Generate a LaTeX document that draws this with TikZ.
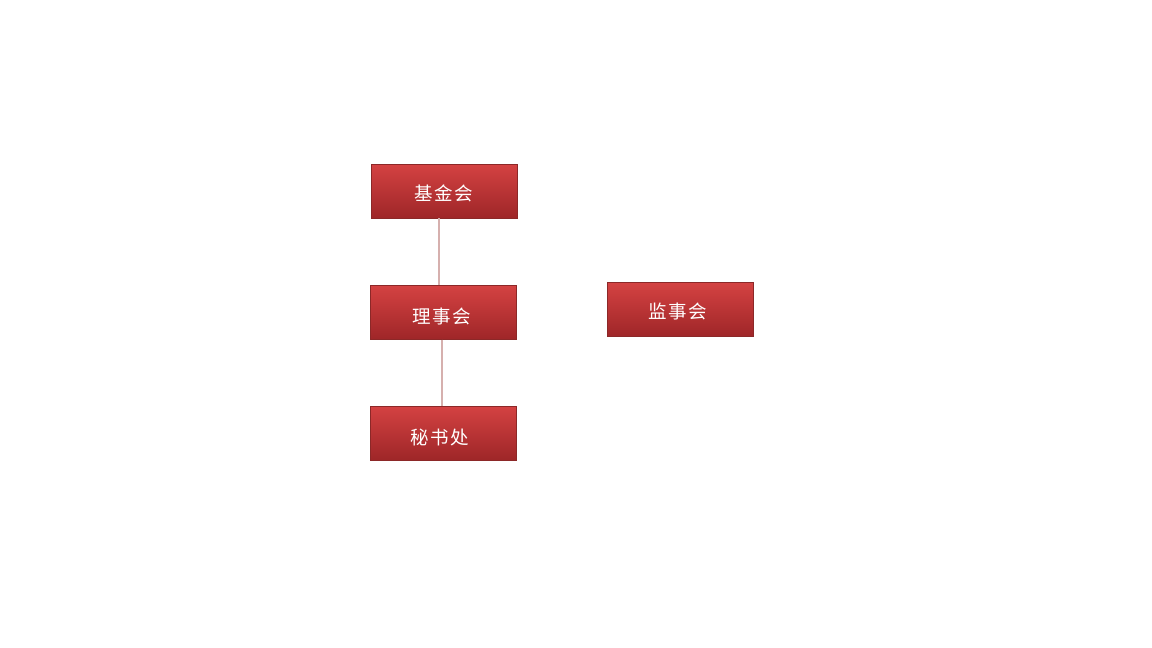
\documentclass[tikz,border=0pt]{standalone}
\usepackage{fontspec}
\newfontfamily\cjk[LetterSpace=8]{Noto Sans CJK SC}
\definecolor{boxtop}{RGB}{212,66,66}
\definecolor{boxbot}{RGB}{158,38,40}
\definecolor{boxedge}{RGB}{140,40,40}
\definecolor{linkcol}{RGB}{214,176,174}
\tikzset{
  orgbox/.style={rectangle, minimum width=146pt, minimum height=54pt, inner sep=0pt,
    top color=boxtop, bottom color=boxbot, draw=boxedge, line width=0.4pt},
  orglabel/.style={text=white, font=\cjk\fontsize{18.5pt}{20pt}\selectfont, inner sep=0pt},
  link/.style={draw=linkcol, line width=1.5pt}
}
\begin{document}
\begin{tikzpicture}[x=1pt,y=-1pt]
\useasboundingbox (0,0) rectangle (1152,648);
\node[orgbox] (jjh) at (444,191) {};
\node[orgbox] (lsh) at (443,312.5) {};
\node[orgbox] (msc) at (443,433) {};
\node[orgbox] (jsh) at (680,309.5) {};
\node[orglabel] (tjjh) at ([xshift=0pt,yshift=-2pt]jjh.center) {基金会};
\node[orglabel] (tlsh) at ([xshift=-1pt,yshift=-3.5pt]lsh.center) {理事会};
\node[orglabel] (tmsc) at ([xshift=-3pt,yshift=-4pt]msc.center) {秘书处};
\node[orglabel] (tjsh) at ([xshift=-2pt,yshift=-1.5pt]jsh.center) {监事会};
\draw[link] ([xshift=-5pt]jjh.south) -- ([xshift=-4pt]lsh.north);
\draw[link] ([xshift=-1pt]lsh.south) -- ([xshift=-1pt]msc.north);
\end{tikzpicture}
\end{document}
